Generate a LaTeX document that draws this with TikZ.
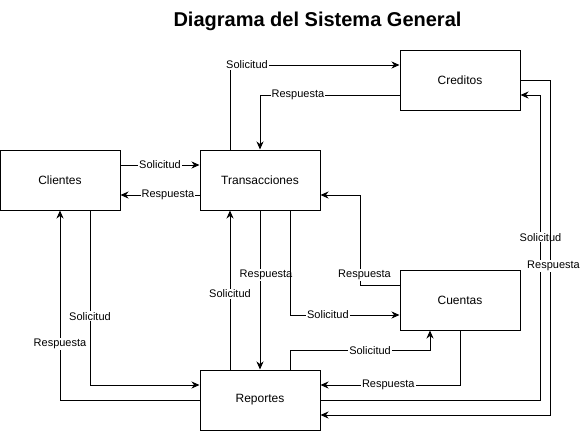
\documentclass[tikz,border=0pt]{standalone}
\usepackage{fontspec}
\setmainfont{Liberation Sans}
\usetikzlibrary{arrows.meta}
\tikzset{
  box/.style={draw, line width=1pt, minimum width=120pt, minimum height=60pt, inner sep=0pt, font=\fontsize{12}{14}\selectfont},
  lbl/.style={fill=white, inner sep=1pt, font=\fontsize{11}{13}\selectfont},
  arr/.style={line width=1pt, -{Stealth[length=8pt, width=7pt, inset=2.5pt]}},
  ln/.style={line width=1pt},
}
\begin{document}
\begin{tikzpicture}[x=1pt, y=-1pt]
\useasboundingbox (0,0) rectangle (580,431);
\node[font=\bfseries\fontsize{20}{24}\selectfont] (title) at (317.5,21) {Diagrama del Sistema General};

\node[box] (cli) at (60,180) {Clientes};
\node[box] (tra) at (260,180) {Transacciones};
\node[box] (cre) at (460,80) {Creditos};
\node[box] (cue) at (460,300) {Cuentas};
\node[box] (rep) at (260,400) {Reportes};

% Clientes <-> Transacciones
\draw[arr] ([yshift=15pt]cli.east) -- node[lbl]{Solicitud} ([yshift=15pt]tra.west);
\draw[arr] ([yshift=-15pt]tra.west) -- node[lbl, pos=0.4]{Respuesta} ([yshift=-15pt]cli.east);

% Transacciones <-> Creditos
\draw[arr] ([xshift=-30pt]tra.north) |- node[lbl, pos=0.55]{Solicitud} ([yshift=15pt]cre.west);
\draw[arr] ([yshift=-15pt]cre.west) -| node[lbl, pos=0.364]{Respuesta} (tra.north);

% Reportes <-> Creditos
\draw[arr] (rep.east) -| node[lbl, pos=0.767]{Solicitud} ([xshift=20pt, yshift=-15pt]cre.east) -- ([yshift=-15pt]cre.east);
\draw[arr] (cre.east) -- ([xshift=30pt]cre.east) |- node[lbl, pos=0.278, xshift=3pt]{Respuesta} ([yshift=-15pt]rep.east);

% Transacciones <-> Reportes
\draw[arr] (tra.south) -- node[lbl, pos=0.406, xshift=6pt]{Respuesta} (rep.north);
\draw[arr] ([xshift=-30pt]rep.north) -- node[lbl, pos=0.475]{Solicitud} ([xshift=-30pt]tra.south);

% Transacciones <-> Cuentas
\draw[arr] ([xshift=30pt]tra.south) |- node[lbl, pos=0.673]{Solicitud} ([yshift=-15pt]cue.west);
\draw[arr] ([yshift=15pt]cue.west) -| node[lbl, pos=0.555, xshift=4pt]{Respuesta} ([xshift=40pt, yshift=-15pt]tra.east) -- ([yshift=-15pt]tra.east);

% Reportes <-> Cuentas
\draw[arr] ([xshift=30pt]rep.north) |- node[lbl, pos=0.786]{Solicitud} ([xshift=-30pt, yshift=-20pt]cue.south) -- ([xshift=-30pt]cue.south);
\draw[arr] (cue.south) |- node[lbl, pos=0.757]{Respuesta} ([yshift=15pt]rep.east);

% Clientes <-> Reportes
\draw[arr] ([xshift=30pt]cli.south) |- node[lbl, pos=0.303]{Solicitud} ([yshift=15pt]rep.west);
\draw[arr] (rep.west) -| node[lbl, pos=0.647]{Respuesta} (cli.south);
\end{tikzpicture}
\end{document}
